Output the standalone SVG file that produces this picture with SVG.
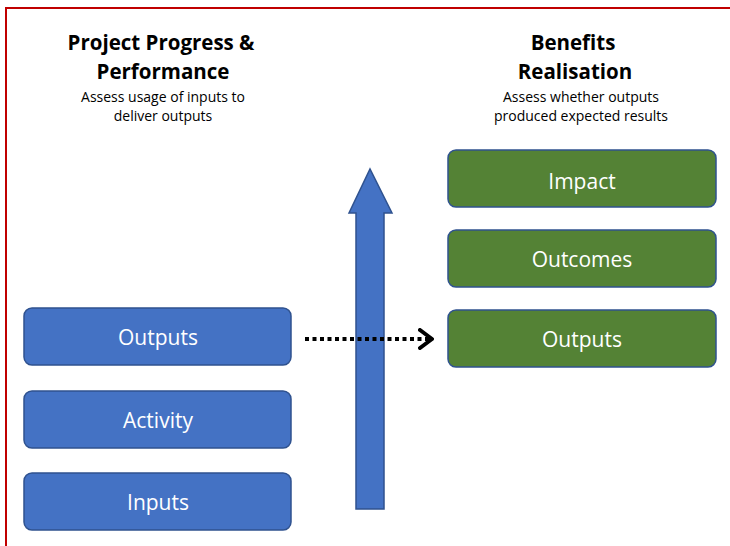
<svg xmlns="http://www.w3.org/2000/svg" width="730" height="546" viewBox="0 0 730 546">
<style>
.head{font-family:"Open Sans","Liberation Sans",sans-serif;font-weight:bold;font-size:20.5px;fill:#000;text-anchor:middle}
.sub{font-family:"Open Sans","Liberation Sans",sans-serif;font-size:14px;fill:#000;text-anchor:middle}
.lbl{font-family:"Open Sans","Liberation Sans",sans-serif;font-size:21px;fill:#fff;text-anchor:middle}
.blue{fill:#4472C4;stroke:#2F528F;stroke-width:1.5}
.green{fill:#548235;stroke:#2F528F;stroke-width:1.5}
</style>
<defs>
<marker id="chev" viewBox="0 0 16 22" refX="14" refY="11" markerWidth="16" markerHeight="22" markerUnits="userSpaceOnUse" orient="auto">
<path d="M2,2 L14,11 L2,20" fill="none" stroke="#000" stroke-width="4" stroke-linecap="round" stroke-linejoin="round"/>
</marker>
</defs>
<rect width="730" height="546" fill="#fff"/>
<path d="M6,546 L6,8 L730,8" fill="none" stroke="#C00000" stroke-width="2"/>
<g id="titles">
<text class="head" x="161" y="50">Project Progress &amp;</text>
<text class="head" x="163" y="79">Performance</text>
<text class="sub" x="163" y="102">Assess usage of inputs to</text>
<text class="sub" x="163" y="121">deliver outputs</text>
<text class="head" x="573" y="50">Benefits</text>
<text class="head" x="575" y="79">Realisation</text>
<text class="sub" x="581" y="102">Assess whether outputs</text>
<text class="sub" x="581" y="121">produced expected results</text>
</g>
<g id="bigarrow">
<path class="blue" d="M356,509 L356,213 L349,213 L370,169 L392,213 L384,213 L384,509 Z" stroke-width="1"/>
</g>
<g id="connectors">
<line x1="305" y1="339" x2="432" y2="339" stroke="#000" stroke-width="4" stroke-dasharray="4,3.5" marker-end="url(#chev)"/>
</g>
<g id="node-outputs-left"><rect class="blue" x="24" y="308" width="267" height="57" rx="8"/><text class="lbl" x="158" y="345">Outputs</text></g>
<g id="node-activity"><rect class="blue" x="24" y="391" width="267" height="57" rx="8"/><text class="lbl" x="158" y="428">Activity</text></g>
<g id="node-inputs"><rect class="blue" x="24" y="473" width="267" height="57" rx="8"/><text class="lbl" x="158" y="510">Inputs</text></g>
<g id="node-impact"><rect class="green" x="448" y="150" width="268" height="57" rx="8"/><text class="lbl" x="582" y="189">Impact</text></g>
<g id="node-outcomes"><rect class="green" x="448" y="230" width="268" height="57" rx="8"/><text class="lbl" x="582" y="267">Outcomes</text></g>
<g id="node-outputs-right"><rect class="green" x="448" y="310" width="268" height="57" rx="8"/><text class="lbl" x="582" y="347">Outputs</text></g>
</svg>
